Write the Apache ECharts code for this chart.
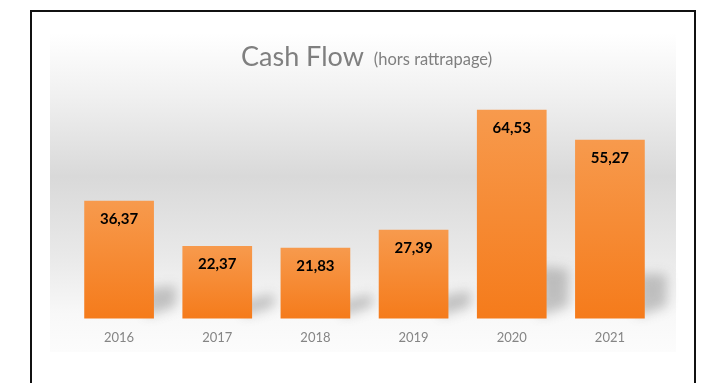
<!DOCTYPE html>
<html>
<head>
<meta charset="utf-8">
<script src="https://cdn.jsdelivr.net/npm/echarts@6/dist/echarts.min.js"></script>
<style>
  html, body { margin: 0; padding: 0; background: #ffffff; }
  #chart { width: 706px; height: 383px; }
</style>
</head>
<body>
<div id="chart"></div>
<script>
// Cash flow per year
const years = ['2016', '2017', '2018', '2019', '2020', '2021'];
const cashFlow = [36.37, 22.37, 21.83, 27.39, 64.53, 55.27];

const chart = echarts.init(document.getElementById('chart'));

const fmt = v => v.toFixed(2).replace('.', ',');

// Soft cast shadow behind each bar, sized from the bar's own value
function renderShadow(params, api) {
  const idx = api.value(0);
  const val = api.value(1);
  const band = api.size([1, 0])[0];
  const barW = band * 0.71;
  const top = api.coord([idx, val]);
  const base = api.coord([idx, 0]);
  const xR = top[0] + barW / 2;
  const y0 = base[1];
  const h = y0 - top[1];
  const off = 2000;
  const pts = [
    [xR - 8, y0 - 2],
    [xR + 22, y0 - 12],
    [xR + 22, y0 - 12 - 0.18 * h],
    [xR - 8, y0 - 0.25 * h]
  ].map(p => [p[0] - off, p[1]]);
  return {
    type: 'polygon',
    shape: { points: pts },
    style: {
      fill: '#000',
      shadowBlur: 12,
      shadowColor: 'rgba(120,120,120,0.42)',
      shadowOffsetX: off
    },
    silent: true
  };
}

chart.setOption({
  animation: false,
  title: {
    text: '{a|Cash Flow}{b|(hors rattrapage)}',
    left: 236,
    top: 39,
    textStyle: {
      rich: {
        a: { fontFamily: 'Lato', fontSize: 27, color: '#7f7f7f', fontWeight: 'normal' },
        b: { fontFamily: 'Lato', fontSize: 16.5, color: '#7f7f7f', fontWeight: 'normal', padding: [5, 0, 0, 10] }
      }
    }
  },
  graphic: [
    {
      type: 'rect',
      z: -10,
      shape: { x: 50, y: 33, width: 626, height: 319 },
      style: {
        fill: new echarts.graphic.LinearGradient(0, 0, 0, 1, [
          { offset: 0, color: '#ffffff' },
          { offset: 0.2, color: '#f0f0f0' },
          { offset: 0.45, color: '#d9d9d9' },
          { offset: 0.7, color: '#e9e9e9' },
          { offset: 0.88, color: '#f8f8f8' },
          { offset: 1, color: '#fcfcfc' }
        ])
      },
      silent: true
    },
    {
      type: 'rect',
      z: 100,
      shape: { x: 31, y: 11, width: 664, height: 420 },
      style: { fill: 'transparent', stroke: '#111111', lineWidth: 2 },
      silent: true
    }
  ],
  grid: { left: 70, right: 47, top: 92, bottom: 64.5 },
  xAxis: {
    type: 'category',
    data: years,
    axisLine: { show: false },
    axisTick: { show: false },
    axisLabel: { color: '#858585', fontFamily: 'Lato', fontSize: 13, margin: 13 }
  },
  yAxis: {
    type: 'value',
    min: 0,
    max: 70,
    show: false,
    splitLine: { show: false }
  },
  series: [
    {
      type: 'custom',
      z: 1,
      renderItem: renderShadow,
      data: cashFlow.map((v, i) => [i, v])
    },
    {
      type: 'bar',
      z: 3,
      data: cashFlow,
      barCategoryGap: '29%',
      itemStyle: {
        color: new echarts.graphic.LinearGradient(0, 0, 0, 1, [
          { offset: 0, color: '#f79a4d' },
          { offset: 1, color: '#f57b1b' }
        ])
      },
      label: {
        show: true,
        position: 'insideTop',
        distance: 11,
        formatter: p => fmt(p.value),
        color: '#000000',
        fontFamily: 'Lato',
        fontWeight: 'bold',
        fontSize: 15
      }
    }
  ]
});
</script>
</body>
</html>
